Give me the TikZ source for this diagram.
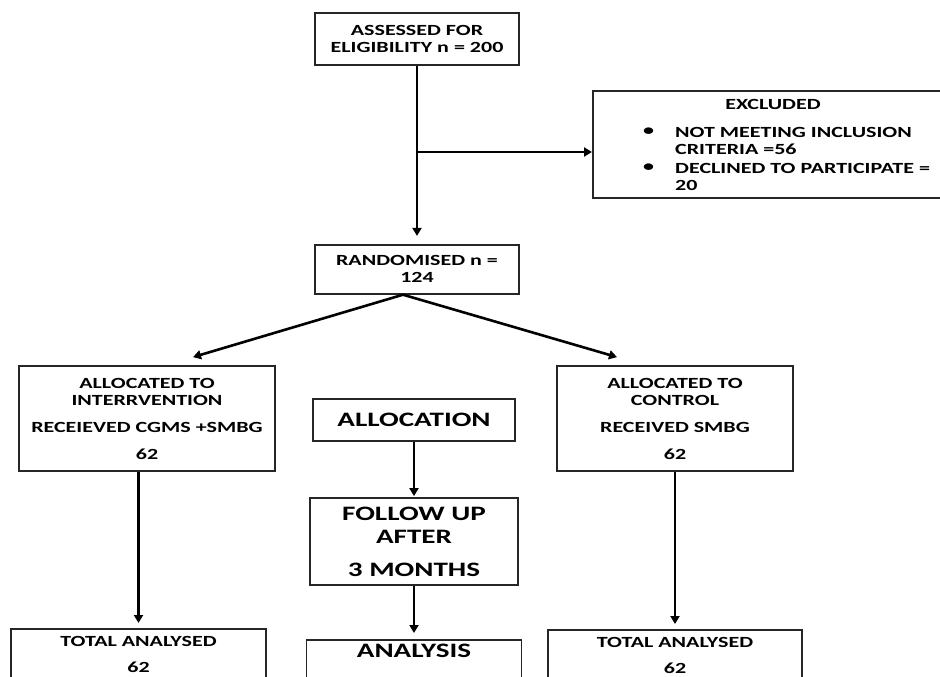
\documentclass[tikz,border=0pt]{standalone}
\usepackage{fontspec}
\setmainfont{Carlito}[FakeStretch=1.42]
\usetikzlibrary{positioning,arrows.meta,calc}
\tikzset{
	box/.style={
		rectangle,
		draw=black!85,
		line width=1.8pt,
		align=center,
		inner sep=2pt,
		font=\bfseries\fontsize{15.5}{17}\selectfont
	},
	bigbox/.style={
		box,
		font=\bfseries\fontsize{20.5}{23}\selectfont
	}
}

\begin{document}
\begin{tikzpicture}[x=1pt,y=-1pt]
		\tikzstyle{connect}=[line width=2.6pt, -{Triangle[length=8pt,width=9pt]}, shorten >=5pt]
		\tikzstyle{txt}=[inner sep=0pt, font=\bfseries\fontsize{15.5}{17}\selectfont]
		\useasboundingbox (0,0) rectangle (940,677);
		\clip (0,0) rectangle (940,677);
		
		% enrolment
		\node[box, minimum width=204, minimum height=52] (assess) at (417,39) {ASSESSED FOR\\ELIGIBILITY n = 200};
		\node[box, minimum width=204, minimum height=49, below=178pt of assess] (random) {RANDOMISED n =\\124};
		\node[box, minimum width=362, minimum height=107, anchor=north west] (excl) at (592,90) {};
		\node[txt] (exhead) at (773,104) {EXCLUDED};
		\node[txt, anchor=west] (bula) at (643,132) {\textbullet};
		\node[txt, anchor=west, align=left] (exa) at (675,140.5) {NOT MEETING INCLUSION\\CRITERIA =56};
		\node[txt, anchor=west] (bulb) at (643,168) {\textbullet};
		\node[txt, anchor=west, align=left] (exb) at (675,176.5) {DECLINED TO PARTICIPATE =\\20};
		
		% allocation
		\node[box, minimum width=256, minimum height=105] (allocint) at (147,418.5) {ALLOCATED TO\\INTERRVENTION\\[10pt]RECEIEVED CGMS +SMBG\\[10pt]62};
		\node[box, minimum width=236, minimum height=105] (allocctl) at (675,418.5) {ALLOCATED TO\\CONTROL\\[10pt]RECEIVED SMBG\\[10pt]62};
		\node[bigbox, minimum width=202, minimum height=42] (allocation) at (414,420) {ALLOCATION};
		\node[bigbox, minimum width=208, minimum height=87] (follow) at (414,541.5) {FOLLOW UP\\AFTER\\[10pt]3 MONTHS};
		
		% analysis (cut by the page)
		\node[box, minimum width=255, minimum height=52, anchor=north] (totint) at (138.5,628) {TOTAL ANALYSED\\[9pt]62};
		\node[box, minimum width=254, minimum height=52, anchor=north] (totctl) at (675,629) {TOTAL ANALYSED\\[9pt]62};
		\node[bigbox, minimum width=215, anchor=north, inner ysep=4pt, text depth=40pt] (analysis) at (414,639) {ANALYSIS};
		
		\coordinate (split) at (417,152);
		
		\path 
		(assess) edge [connect, shorten >=8pt] (random)
		(split) edge [connect, shorten >=0pt] (split -| excl.west)
		(allocint.south -| totint.north) edge [connect] (totint.north)
		(allocctl) edge [connect] (totctl)
		(allocation) edge [connect, shorten >=1pt] (follow)
		(follow) edge [connect, shorten >=6pt] (analysis)
		;
		\draw[connect, shorten >=0pt] ($(random.south)+(-14,0)$) -- ($(allocint.north)+(46,-8)$);
		\draw[connect, shorten >=0pt] ($(random.south)+(-14,0)$) -- ($(allocctl.north)+(-58,-8)$);
		
		
		\end{tikzpicture}
\end{document}
